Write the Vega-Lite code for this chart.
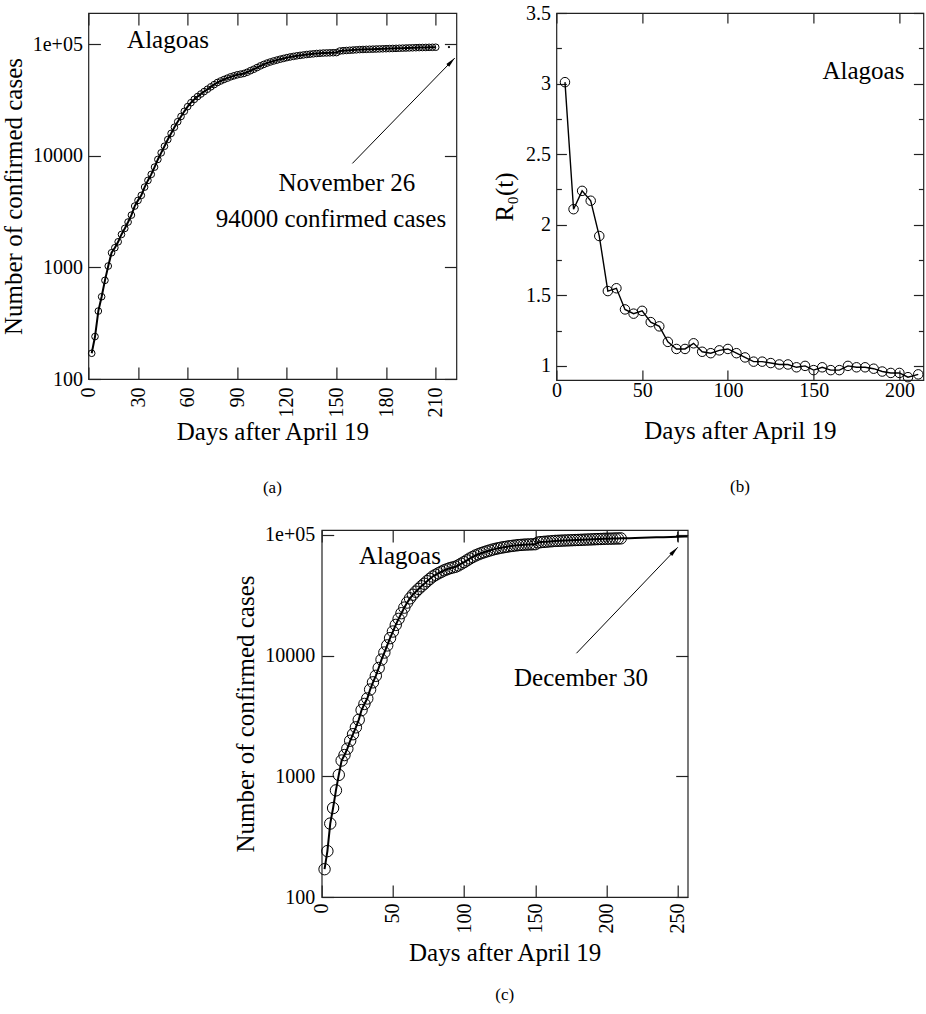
{
  "$schema": "https://vega.github.io/schema/vega-lite/v6.json",
  "background": "white",
  "padding": {"left": 0, "top": 2, "right": 0, "bottom": 0},
  "datasets": {
    "alagoas": [
      {"day":2,"cases":170,"kind":"d"},{"day":4,"cases":240,"kind":"d"},{"day":6,"cases":406,"kind":"d"},{"day":8,"cases":546,"kind":"d"},{"day":10,"cases":765,"kind":"d"},
      {"day":12,"cases":1028,"kind":"d"},{"day":14,"cases":1352,"kind":"d"},{"day":16,"cases":1500,"kind":"d"},{"day":18,"cases":1695,"kind":"d"},{"day":20,"cases":1972,"kind":"d"},
      {"day":22,"cases":2234,"kind":"d"},{"day":24,"cases":2547,"kind":"d"},{"day":26,"cases":2938,"kind":"d"},{"day":28,"cases":3540,"kind":"d"},{"day":30,"cases":3981,"kind":"d"},
      {"day":32,"cases":4416,"kind":"d"},{"day":34,"cases":5236,"kind":"d"},{"day":36,"cases":6012,"kind":"d"},{"day":38,"cases":6808,"kind":"d"},{"day":40,"cases":7907,"kind":"d"},
      {"day":42,"cases":9268,"kind":"d"},{"day":44,"cases":10617,"kind":"d"},{"day":46,"cases":12160,"kind":"d"},{"day":48,"cases":13964,"kind":"d"},{"day":50,"cases":15849,"kind":"d"},
      {"day":52,"cases":17989,"kind":"d"},{"day":54,"cases":20184,"kind":"d"},{"day":56,"cases":22491,"kind":"d"},{"day":58,"cases":25003,"kind":"d"},{"day":60,"cases":27542,"kind":"d"},
      {"day":62,"cases":29854,"kind":"d"},{"day":64,"cases":31989,"kind":"d"},{"day":66,"cases":33884,"kind":"d"},{"day":68,"cases":35727,"kind":"d"},{"day":70,"cases":37584,"kind":"d"},
      {"day":72,"cases":39446,"kind":"d"},{"day":74,"cases":41400,"kind":"d"},{"day":76,"cases":43351,"kind":"d"},{"day":78,"cases":45290,"kind":"d"},{"day":80,"cases":46774,"kind":"d"},
      {"day":82,"cases":48195,"kind":"d"},{"day":84,"cases":49545,"kind":"d"},{"day":86,"cases":50933,"kind":"d"},{"day":88,"cases":52000,"kind":"d"},{"day":90,"cases":53088,"kind":"d"},
      {"day":92,"cases":53827,"kind":"d"},{"day":94,"cases":54576,"kind":"d"},{"day":96,"cases":55976,"kind":"d"},{"day":98,"cases":57810,"kind":"d"},{"day":100,"cases":59566,"kind":"d"},
      {"day":102,"cases":61660,"kind":"d"},{"day":104,"cases":63826,"kind":"d"},{"day":106,"cases":65766,"kind":"d"},{"day":108,"cases":67608,"kind":"d"},{"day":110,"cases":69183,"kind":"d"},
      {"day":112,"cases":70632,"kind":"d"},{"day":114,"cases":71945,"kind":"d"},{"day":116,"cases":73282,"kind":"d"},{"day":118,"cases":74473,"kind":"d"},{"day":120,"cases":75683,"kind":"d"},
      {"day":122,"cases":76736,"kind":"d"},{"day":124,"cases":77625,"kind":"d"},{"day":126,"cases":78524,"kind":"d"},{"day":128,"cases":79250,"kind":"d"},{"day":130,"cases":79983,"kind":"d"},
      {"day":132,"cases":80724,"kind":"d"},{"day":134,"cases":81283,"kind":"d"},{"day":136,"cases":81846,"kind":"d"},{"day":138,"cases":82414,"kind":"d"},{"day":140,"cases":82794,"kind":"d"},
      {"day":142,"cases":83176,"kind":"d"},{"day":144,"cases":83368,"kind":"d"},{"day":146,"cases":83560,"kind":"d"},{"day":148,"cases":83753,"kind":"d"},{"day":150,"cases":83946,"kind":"d"},
      {"day":152,"cases":86696,"kind":"d"},{"day":154,"cases":87297,"kind":"d"},{"day":156,"cases":87700,"kind":"d"},{"day":158,"cases":88105,"kind":"d"},{"day":160,"cases":88512,"kind":"d"},
      {"day":162,"cases":88920,"kind":"d"},{"day":164,"cases":89331,"kind":"d"},{"day":166,"cases":89536,"kind":"d"},{"day":168,"cases":89743,"kind":"d"},{"day":170,"cases":89950,"kind":"d"},
      {"day":172,"cases":90157,"kind":"d"},{"day":174,"cases":90365,"kind":"d"},{"day":176,"cases":90573,"kind":"d"},{"day":178,"cases":90782,"kind":"d"},{"day":180,"cases":90991,"kind":"d"},
      {"day":182,"cases":91201,"kind":"d"},{"day":184,"cases":91411,"kind":"d"},{"day":186,"cases":91622,"kind":"d"},{"day":188,"cases":91833,"kind":"d"},{"day":190,"cases":92045,"kind":"d"},
      {"day":192,"cases":92257,"kind":"d"},{"day":194,"cases":92470,"kind":"d"},{"day":196,"cases":92683,"kind":"d"},{"day":198,"cases":92897,"kind":"d"},{"day":200,"cases":93111,"kind":"d"},
      {"day":202,"cases":93200,"kind":"d"},{"day":204,"cases":93325,"kind":"d"},{"day":206,"cases":93540,"kind":"d"},{"day":208,"cases":93600,"kind":"d"},{"day":210,"cases":93756,"kind":"d"},
      {"day":212,"cases":93850,"kind":"m"},{"day":216,"cases":94100,"kind":"m"},{"day":220,"cases":94400,"kind":"m"},{"day":225,"cases":94800,"kind":"m"},{"day":230,"cases":95200,"kind":"m"},
      {"day":235,"cases":95600,"kind":"m"},{"day":240,"cases":96000,"kind":"m"},{"day":245,"cases":96400,"kind":"m"},{"day":250,"cases":96800,"kind":"m"},{"day":255,"cases":97200,"kind":"m"},
      {"day":257,"cases":97350,"kind":"m"}
    ],
    "r0": [
      {"day":5,"r":3.01},{"day":10,"r":2.11},{"day":15,"r":2.24},{"day":20,"r":2.17},{"day":25,"r":1.92},{"day":30,"r":1.53},{"day":35,"r":1.55},
      {"day":40,"r":1.40},{"day":45,"r":1.37},{"day":50,"r":1.39},{"day":55,"r":1.31},{"day":60,"r":1.28},{"day":65,"r":1.17},{"day":70,"r":1.12},
      {"day":75,"r":1.12},{"day":80,"r":1.16},{"day":85,"r":1.10},{"day":90,"r":1.09},{"day":95,"r":1.11},{"day":100,"r":1.12},{"day":105,"r":1.09},
      {"day":110,"r":1.06},{"day":115,"r":1.03},{"day":120,"r":1.03},{"day":125,"r":1.02},{"day":130,"r":1.01},{"day":135,"r":1.01},{"day":140,"r":0.99},
      {"day":145,"r":1.00},{"day":150,"r":0.97},{"day":155,"r":0.99},{"day":160,"r":0.97},{"day":165,"r":0.97},{"day":170,"r":1.00},{"day":175,"r":0.99},
      {"day":180,"r":0.99},{"day":185,"r":0.98},{"day":190,"r":0.96},{"day":195,"r":0.95},{"day":200,"r":0.95},{"day":205,"r":0.92},{"day":211,"r":0.94}
    ]
  },
  "vconcat": [
    {
      "hconcat": [
        {
          "width": 368, "height": 366,
          "title": {"text": "(a)", "orient": "bottom", "offset": 36, "anchor": "middle"},
          "layer": [
            {
              "data": {"name": "alagoas"},
              "transform": [{"filter": "datum.kind == 'd'"}],
              "mark": {"type": "line", "color": "black", "strokeWidth": 2},
              "encoding": {
                "x": {"field": "day", "type": "quantitative", "scale": {"domain": [0, 222.5], "nice": false, "zero": false},
                  "axis": {"orient": "bottom", "values": [0,30,60,90,120,150,180,210], "labelAngle": 270, "tickSize": -12, "labelPadding": 20, "title": "Days after April 19", "titlePadding": 2}},
                "y": {"field": "cases", "type": "quantitative", "scale": {"type": "log", "domain": [100, 190000], "nice": false},
                  "axis": {"orient": "left", "values": [100,1000,10000,100000], "labelExpr": "datum.value >= 100000 ? '1e+05' : format(datum.value, 'd')", "tickSize": -12, "labelPadding": 18, "title": "Number of confirmed cases", "titlePadding": 6}}
              }
            },
            {
              "data": {"name": "alagoas"},
              "transform": [{"filter": "datum.kind == 'd'"}],
              "mark": {"type": "point", "shape": "circle", "filled": false, "color": "black", "size": 44, "strokeWidth": 1, "opacity": 1},
              "encoding": {
                "x": {"field": "day", "type": "quantitative", "axis": {"orient": "top", "values": [0,30,60,90,120,150,180,210], "labels": false, "tickSize": -12, "title": null}},
                "y": {"field": "cases", "type": "quantitative", "axis": {"orient": "right", "values": [100,1000,10000,100000], "labels": false, "tickSize": -12, "title": null}}
              }
            },
            {
              "data": {"values": [{"day": 23.4, "cases": 92650, "label": "Alagoas"}]},
              "mark": {"type": "text", "align": "left", "baseline": "alphabetic", "fontSize": 25, "color": "black"},
              "encoding": {
                "x": {"field": "day", "type": "quantitative", "axis": null},
                "y": {"field": "cases", "type": "quantitative", "axis": null},
                "text": {"field": "label"}
              }
            },
            {
              "data": {"values": [{"day": 156.3, "cases": 4862, "label": "November 26"}, {"day": 146.6, "cases": 2280, "label": "94000 confirmed cases"}]},
              "mark": {"type": "text", "align": "center", "baseline": "alphabetic", "fontSize": 25, "color": "black"},
              "encoding": {
                "x": {"field": "day", "type": "quantitative", "axis": null},
                "y": {"field": "cases", "type": "quantitative", "axis": null},
                "text": {"field": "label"}
              }
            },
            {
              "data": {"values": [{"day": 159.6, "cases": 8535, "day2": 221.5, "cases2": 74930}]},
              "mark": {"type": "rule", "color": "black", "strokeWidth": 1},
              "encoding": {
                "x": {"field": "day", "type": "quantitative", "axis": null},
                "y": {"field": "cases", "type": "quantitative", "axis": null},
                "x2": {"field": "day2"},
                "y2": {"field": "cases2"}
              }
            },
            {
              "data": {"values": [{"day": 221.5, "cases": 74930}]},
              "mark": {"type": "point", "shape": "M0,0L0.4,2L-0.4,2Z", "filled": true, "color": "black", "size": 100, "angle": 44, "opacity": 1},
              "encoding": {
                "x": {"field": "day", "type": "quantitative", "axis": null},
                "y": {"field": "cases", "type": "quantitative", "axis": null}
              }
            },
            {
              "data": {"values": [{"day": 218, "cases": 94000}]},
              "mark": {"type": "point", "shape": "circle", "filled": true, "color": "black", "size": 5, "opacity": 1},
              "encoding": {
                "x": {"field": "day", "type": "quantitative", "axis": null},
                "y": {"field": "cases", "type": "quantitative", "axis": null}
              }
            }
          ],
          "resolve": {"axis": {"x": "independent", "y": "independent"}}
        },
        {
          "width": 367, "height": 367,
          "title": {"text": "(b)", "orient": "bottom", "offset": 36, "anchor": "middle"},
          "layer": [
            {
              "data": {"name": "r0"},
              "mark": {"type": "line", "color": "black", "strokeWidth": 1.4},
              "encoding": {
                "x": {"field": "day", "type": "quantitative", "scale": {"domain": [0, 214], "nice": false, "zero": false},
                  "axis": {"orient": "bottom", "values": [0,50,100,150,200], "labelAngle": 0, "tickSize": -10, "labelPadding": 10, "title": "Days after April 19", "titlePadding": 18}},
                "y": {"field": "r", "type": "quantitative", "scale": {"domain": [0.9, 3.5], "nice": false, "zero": false},
                  "axis": {"orient": "left", "values": [1,1.25,1.5,1.75,2,2.25,2.5,2.75,3,3.25,3.5], "labelExpr": "datum.value % 0.5 == 0 ? format(datum.value, '~g') : ''", "tickSize": {"condition": {"test": "datum.value % 0.5 != 0", "value": -5}, "value": -10}, "labelPadding": 16, "title": "R₀(t)", "titlePadding": 8}}
              }
            },
            {
              "data": {"name": "r0"},
              "mark": {"type": "point", "shape": "circle", "filled": false, "color": "black", "size": 90, "strokeWidth": 1, "opacity": 1},
              "encoding": {
                "x": {"field": "day", "type": "quantitative", "axis": {"orient": "top", "values": [0,50,100,150,200], "labels": false, "tickSize": -10, "title": null}},
                "y": {"field": "r", "type": "quantitative", "axis": {"orient": "right", "values": [1,1.25,1.5,1.75,2,2.25,2.5,2.75,3,3.25,3.5], "labels": false, "tickSize": {"condition": {"test": "datum.value % 0.5 != 0", "value": -5}, "value": -10}, "title": null}}
              }
            },
            {
              "data": {"values": [{"day": 202.9, "r": 3.029, "label": "Alagoas"}]},
              "mark": {"type": "text", "align": "right", "baseline": "alphabetic", "fontSize": 25, "color": "black"},
              "encoding": {
                "x": {"field": "day", "type": "quantitative", "axis": null},
                "y": {"field": "r", "type": "quantitative", "axis": null},
                "text": {"field": "label"}
              }
            }
          ],
          "resolve": {"axis": {"x": "independent", "y": "independent"}}
        }
      ],
      "spacing": 33
    },
    {
      "width": 366, "height": 367,
      "title": {"text": "(c)", "orient": "bottom", "offset": 22, "anchor": "middle"},
      "layer": [
        {
          "data": {"name": "alagoas"},
          "mark": {"type": "line", "color": "black", "strokeWidth": 2},
          "encoding": {
            "x": {"field": "day", "type": "quantitative", "scale": {"domain": [0, 257], "nice": false, "zero": false},
              "axis": {"orient": "bottom", "values": [0,50,100,150,200,250], "labelAngle": 270, "tickSize": -12, "labelPadding": 18, "title": "Days after April 19", "titlePadding": 7}},
            "y": {"field": "cases", "type": "quantitative", "scale": {"type": "log", "domain": [100, 110000], "nice": false},
              "axis": {"orient": "left", "values": [100,1000,10000,100000], "labelExpr": "datum.value >= 100000 ? '1e+05' : format(datum.value, 'd')", "tickSize": -12, "labelPadding": 19, "title": "Number of confirmed cases", "titlePadding": 6}}
          }
        },
        {
          "data": {"name": "alagoas"},
          "transform": [{"filter": "datum.kind == 'd'"}],
          "mark": {"type": "point", "shape": "circle", "filled": false, "color": "black", "size": 130, "strokeWidth": 1, "opacity": 1},
          "encoding": {
            "x": {"field": "day", "type": "quantitative", "axis": {"orient": "top", "values": [0,50,100,150,200,250], "labels": false, "tickSize": -12, "title": null}},
            "y": {"field": "cases", "type": "quantitative", "axis": {"orient": "right", "values": [100,1000,10000,100000], "labels": false, "tickSize": -12, "title": null}}
          }
        },
        {
          "data": {"values": [{"day": 26.2, "cases": 57540, "label": "Alagoas"}]},
          "mark": {"type": "text", "align": "left", "baseline": "alphabetic", "fontSize": 25, "color": "black"},
          "encoding": {
            "x": {"field": "day", "type": "quantitative", "axis": null},
            "y": {"field": "cases", "type": "quantitative", "axis": null},
            "text": {"field": "label"}
          }
        },
        {
          "data": {"values": [{"day": 182.1, "cases": 5650, "label": "December 30"}]},
          "mark": {"type": "text", "align": "center", "baseline": "alphabetic", "fontSize": 25, "color": "black"},
          "encoding": {
            "x": {"field": "day", "type": "quantitative", "axis": null},
            "y": {"field": "cases", "type": "quantitative", "axis": null},
            "text": {"field": "label"}
          }
        },
        {
          "data": {"values": [{"day": 178.9, "cases": 10470, "day2": 250, "cases2": 79000}]},
          "mark": {"type": "rule", "color": "black", "strokeWidth": 1},
          "encoding": {
            "x": {"field": "day", "type": "quantitative", "axis": null},
            "y": {"field": "cases", "type": "quantitative", "axis": null},
            "x2": {"field": "day2"},
            "y2": {"field": "cases2"}
          }
        },
        {
          "data": {"values": [{"day": 250, "cases": 79000}]},
          "mark": {"type": "point", "shape": "M0,0L0.4,2L-0.4,2Z", "filled": true, "color": "black", "size": 100, "angle": 44, "opacity": 1},
          "encoding": {
            "x": {"field": "day", "type": "quantitative", "axis": null},
            "y": {"field": "cases", "type": "quantitative", "axis": null}
          }
        },
        {
          "data": {"values": [{"day": 250, "cases": 96800}]},
          "mark": {"type": "point", "shape": "M0,-1L0,1", "filled": false, "color": "black", "size": 100, "strokeWidth": 1, "opacity": 1},
          "encoding": {
            "x": {"field": "day", "type": "quantitative", "axis": null},
            "y": {"field": "cases", "type": "quantitative", "axis": null}
          }
        }
      ],
      "resolve": {"axis": {"x": "independent", "y": "independent"}}
    }
  ],
  "spacing": 27,
  "center": true,
  "config": {
    "font": "Times New Roman, Liberation Serif, serif",
    "text": {"font": "Times New Roman, Liberation Serif, serif"},
    "view": {"stroke": "#222", "strokeWidth": 1.2},
    "axis": {
      "domain": false, "grid": false,
      "labelFont": "Times New Roman, Liberation Serif, serif", "labelFontSize": 20, "labelColor": "black",
      "labelFlush": false, "labelOverlap": false, "labelBound": false,
      "titleFont": "Times New Roman, Liberation Serif, serif", "titleFontSize": 25, "titleFontWeight": "normal", "titleColor": "black",
      "tickColor": "#222", "tickWidth": 1.2
    },
    "title": {"font": "Times New Roman, Liberation Serif, serif", "fontSize": 17, "fontWeight": "normal", "color": "black"}
  }
}
